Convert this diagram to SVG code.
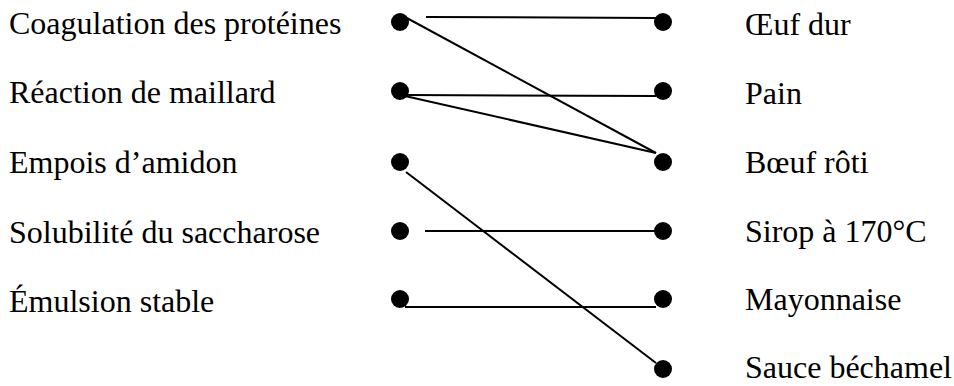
<svg xmlns="http://www.w3.org/2000/svg" width="954" height="386" viewBox="0 0 954 386">
<style>
text{font-family:'Liberation Serif','Times New Roman',serif;font-size:32px;fill:#000}
.dot{fill:#000}
.ln{stroke:#000;stroke-width:2;fill:none}
</style>
<rect width="954" height="386" fill="#fff"/>
<g id="connectors">
<line class="ln" x1="426" y1="17" x2="657" y2="18"/>
<line class="ln" x1="405" y1="17" x2="656" y2="153"/>
<line class="ln" x1="405" y1="95" x2="656" y2="96"/>
<line class="ln" x1="405" y1="96" x2="656" y2="153"/>
<line class="ln" x1="406" y1="172" x2="656" y2="363"/>
<line class="ln" x1="425" y1="231" x2="656" y2="231"/>
<line class="ln" x1="405" y1="307" x2="656" y2="307"/>
</g>
<g id="l1"><text x="9" y="34">Coagulation des protéines</text><circle class="dot" cx="400" cy="22" r="9"/></g>
<g id="l2"><text x="9" y="103">Réaction de maillard</text><circle class="dot" cx="400" cy="91" r="9"/></g>
<g id="l3"><text x="9" y="173">Empois d’amidon</text><circle class="dot" cx="400" cy="162" r="9"/></g>
<g id="l4"><text x="9" y="243">Solubilité du saccharose</text><circle class="dot" cx="400" cy="231" r="9"/></g>
<g id="l5"><text x="9" y="312">Émulsion stable</text><circle class="dot" cx="400" cy="299" r="9"/></g>
<g id="r1"><circle class="dot" cx="663" cy="22" r="9"/><text x="745" y="35">Œuf dur</text></g>
<g id="r2"><circle class="dot" cx="663" cy="91" r="9"/><text x="745" y="104">Pain</text></g>
<g id="r3"><circle class="dot" cx="663" cy="162" r="9"/><text x="745" y="173">Bœuf rôti</text></g>
<g id="r4"><circle class="dot" cx="663" cy="231" r="9"/><text x="745" y="242">Sirop à 170°C</text></g>
<g id="r5"><circle class="dot" cx="663" cy="299" r="9"/><text x="745" y="310">Mayonnaise</text></g>
<g id="r6"><circle class="dot" cx="663" cy="369" r="9"/><text x="745" y="378">Sauce béchamel</text></g>
</svg>
